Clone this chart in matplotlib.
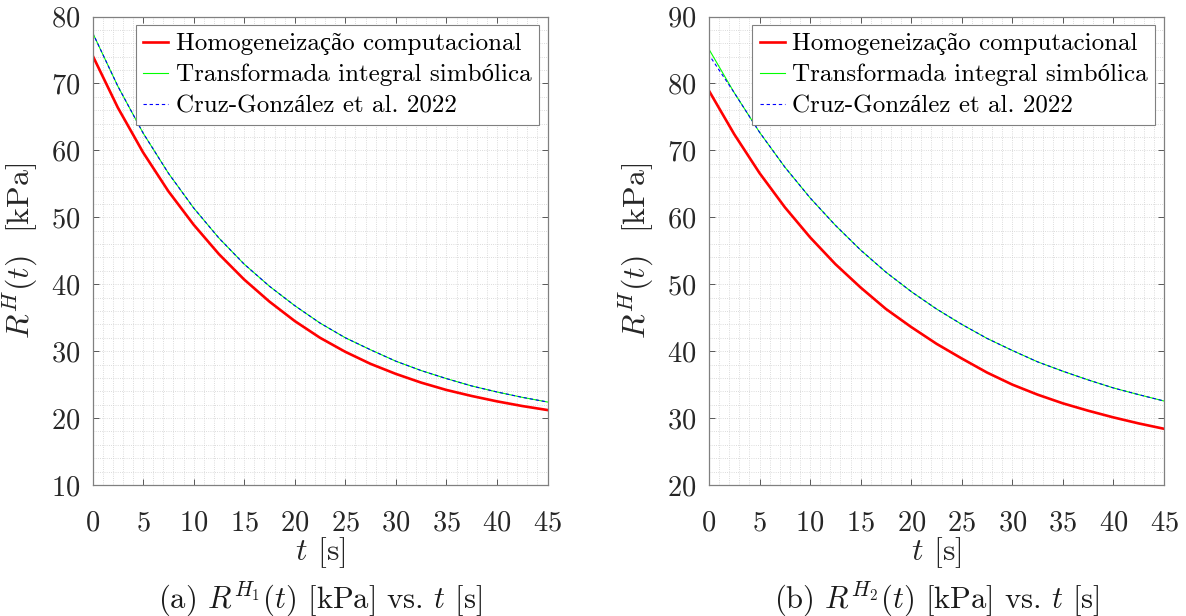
import numpy as np
import matplotlib
matplotlib.use("Agg")
import matplotlib.pyplot as plt
from matplotlib.ticker import MultipleLocator

# Computer Modern for text and math, a serif fallback for accented letters
plt.rcParams['font.family'] = ['cmr10', 'Liberation Serif']
plt.rcParams['mathtext.fontset'] = 'cm'
plt.rcParams['axes.formatter.use_mathtext'] = True

# time samples [s]
t = np.arange(0, 45.1, 2.5)

# R^H1(t) [kPa]
h1_homog = [74.2, 66.4, 59.7, 53.9, 48.9, 44.5, 40.7, 37.4, 34.5, 32.0,
            29.9, 28.1, 26.6, 25.3, 24.2, 23.3, 22.5, 21.8, 21.2]
h1_transf = [77.6, 69.6, 62.6, 56.6, 51.4, 46.9, 43.0, 39.7, 36.8, 34.2,
             32.0, 30.2, 28.5, 27.1, 25.9, 24.8, 23.9, 23.1, 22.4]
h1_cruz = [77.6, 69.6, 62.6, 56.6, 51.4, 46.9, 43.0, 39.7, 36.8, 34.2,
           32.0, 30.2, 28.5, 27.1, 25.9, 24.8, 23.9, 23.1, 22.4]

# R^H2(t) [kPa]
h2_homog = [78.9, 72.4, 66.6, 61.5, 57.0, 53.0, 49.5, 46.3, 43.6, 41.1,
            38.9, 36.8, 35.0, 33.5, 32.2, 31.1, 30.1, 29.2, 28.4]
h2_transf = [85.1, 78.6, 72.7, 67.5, 62.9, 58.8, 55.1, 51.8, 48.9, 46.3,
             44.0, 41.9, 40.1, 38.4, 37.0, 35.7, 34.5, 33.5, 32.55]
t_cruz2 = [0.25, 2.5, 5, 7.5, 10, 12.5, 15, 17.5, 20, 22.5, 25, 27.5, 30,
           32.5, 35, 37.5, 40, 42.5, 45]
h2_cruz = [83.7, 78.6, 72.7, 67.5, 62.9, 58.8, 55.1, 51.8, 48.9, 46.3,
           44.0, 41.9, 40.1, 38.4, 37.0, 35.7, 34.5, 33.5, 32.55]

labels = ['Homogeneização computacional',
          'Transformada integral simbólica',
          'Cruz-González et al. 2022']

fig = plt.figure(figsize=(11.86, 6.16), dpi=100)
ax1 = fig.add_axes([92.5 / 1186, 131 / 616, 455 / 1186, 468.5 / 616])
ax2 = fig.add_axes([709 / 1186, 131 / 616, 455 / 1186, 468.5 / 616])

panels = [
    (ax1, t, h1_homog, h1_transf, t, h1_cruz, (10, 80), '(a) $R^{H_1}(t)$ [kPa] vs. $t$ [s]'),
    (ax2, t, h2_homog, h2_transf, t_cruz2, h2_cruz, (20, 90), '(b) $R^{H_2}(t)$ [kPa] vs. $t$ [s]'),
]

for ax, tt, homog, transf, tc, cruz, ylim, caption in panels:
    ax.plot(tt, homog, color='#ff0000', lw=1.9, label=labels[0])
    ax.plot(tt, transf, color='#00ff00', lw=0.8, label=labels[1])
    ax.plot(tc, cruz, color='#0000ff', lw=0.8, ls=(0, (3, 2.5)), label=labels[2])

    ax.set_xlim(0, 45)
    ax.set_ylim(*ylim)
    ax.xaxis.set_major_locator(MultipleLocator(5))
    ax.xaxis.set_minor_locator(MultipleLocator(1))
    ax.yaxis.set_major_locator(MultipleLocator(10))
    ax.yaxis.set_minor_locator(MultipleLocator(2))
    ax.grid(which='both', color='#d0d0d0', ls=':', lw=0.6)
    ax.set_axisbelow(True)
    ax.tick_params(which='major', direction='in', top=True, right=True,
                   length=4, width=0.6, color='#404040', labelsize=20.5,
                   labelcolor='#262626')
    ax.tick_params(axis='x', which='major', pad=18)
    ax.tick_params(axis='y', which='major', pad=9)
    ax.tick_params(which='minor', length=0)
    for s in ax.spines.values():
        s.set_color('#808080')
        s.set_linewidth(0.9)

    ax.set_xlabel('$t$ [s]', fontsize=23, color='#262626', labelpad=-1)
    ax.set_ylabel('$R^H(t)$  [kPa]', fontsize=23, color='#262626', labelpad=8)
    x0, _, w, _ = ax.get_position().bounds
    fig.text(x0 + w / 2, 17 / 616, caption, ha='center', va='center',
             fontsize=22, color='#1a1a1a')

    leg = ax.legend(loc='upper right', fontsize=18, frameon=True, fancybox=False,
                    edgecolor='#808080', framealpha=1, handlelength=1.0,
                    handletextpad=0.3, borderpad=0.3, labelspacing=0.35,
                    borderaxespad=0.35)
    leg.get_frame().set_linewidth(0.8)

fig.savefig('out.png', dpi=100)
